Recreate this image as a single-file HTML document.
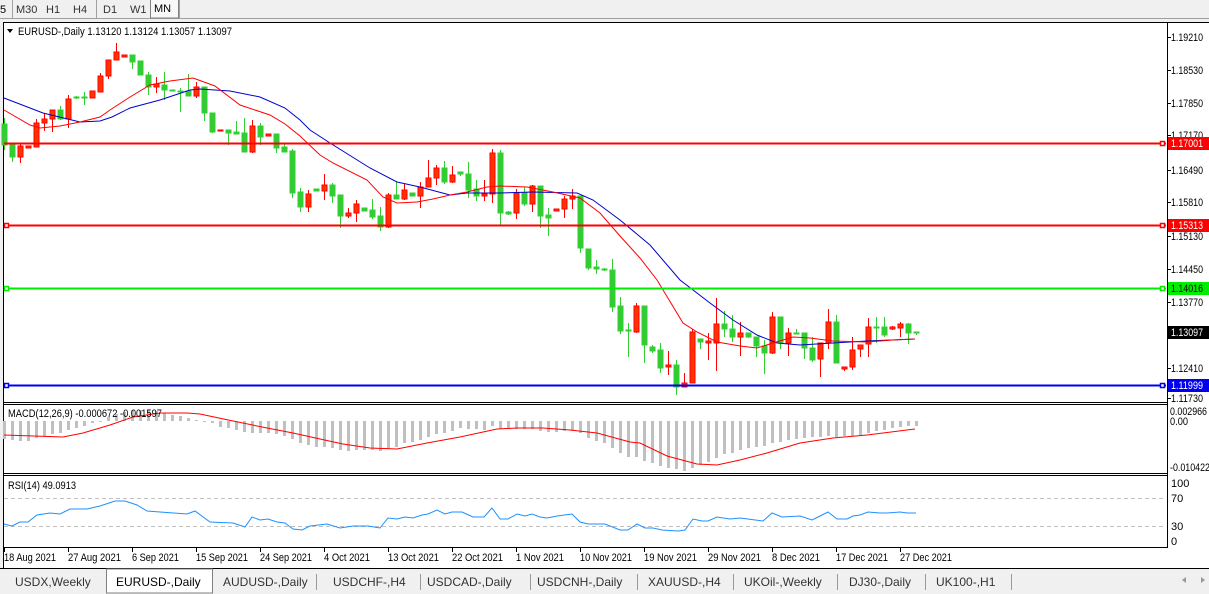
<!DOCTYPE html>
<html><head><meta charset="utf-8"><style>
html,body{margin:0;padding:0;width:1209px;height:594px;overflow:hidden;background:#f0f0f0;font-family:"Liberation Sans",sans-serif}
svg{position:absolute;left:0;top:0}
text{font-family:"Liberation Sans",sans-serif;font-size:11px}
</style></head><body>
<svg id="s" width="1209" height="594" xmlns="http://www.w3.org/2000/svg">
<rect x="0" y="0" width="1209" height="594" fill="#f0f0f0"/>
<rect x="0" y="0" width="1209" height="18" fill="#f0f0f0"/>
<line x1="0" y1="18.5" x2="1209" y2="18.5" stroke="#a0a0a0"/>
<line x1="12.5" y1="0" x2="12.5" y2="18" stroke="#a0a0a0"/>
<line x1="96.5" y1="0" x2="96.5" y2="18" stroke="#a0a0a0"/>
<rect x="150.5" y="-1" width="28" height="19" fill="#f8f8f8" stroke="#808080"/>
<line x1="179.5" y1="0" x2="179.5" y2="18" stroke="#a0a0a0"/>
<g fill="#000"><text x="0" y="13">5</text><text x="16" y="13" fill="#333">M30</text><text x="46" y="13" fill="#333">H1</text><text x="73" y="13" fill="#333">H4</text><text x="103" y="13" fill="#333">D1</text><text x="130" y="13" fill="#333">W1</text><text x="154" y="12">MN</text></g>
<rect x="3" y="22" width="1206" height="546" fill="#fff"/>
<line x1="3.5" y1="22" x2="3.5" y2="568" stroke="#000"/>
<line x1="3" y1="22.5" x2="1209" y2="22.5" stroke="#000"/>
<line x1="1167.5" y1="22" x2="1167.5" y2="548" stroke="#000"/>
<line x1="3" y1="402.5" x2="1167" y2="402.5" stroke="#000"/>
<line x1="3" y1="404.5" x2="1167" y2="404.5" stroke="#000"/>
<line x1="3" y1="473.5" x2="1167" y2="473.5" stroke="#000"/>
<line x1="3" y1="475.5" x2="1167" y2="475.5" stroke="#000"/>
<line x1="3" y1="547.5" x2="1167" y2="547.5" stroke="#000"/>
<line x1="4" y1="498.5" x2="1166" y2="498.5" stroke="#c0c0c0" stroke-dasharray="4,3"/>
<line x1="4" y1="526.5" x2="1166" y2="526.5" stroke="#c0c0c0" stroke-dasharray="4,3"/>
<g id="dyn"></g>
<line x1="4" y1="143.5" x2="1166" y2="143.5" stroke="#ff0000" stroke-width="2"/>
<line x1="4" y1="225.5" x2="1166" y2="225.5" stroke="#ff0000" stroke-width="2"/>
<line x1="4" y1="288.5" x2="1166" y2="288.5" stroke="#00ee00" stroke-width="2"/>
<line x1="4" y1="385.5" x2="1166" y2="385.5" stroke="#0000ee" stroke-width="2"/>
<g fill="#fff" stroke-width="1.5">
<rect x="4.5" y="223.5" width="4" height="4" stroke="#f00"/><rect x="1160.5" y="141.5" width="4" height="4" stroke="#f00"/><rect x="1160.5" y="223.5" width="4" height="4" stroke="#f00"/>
<rect x="4.5" y="286.5" width="4" height="4" stroke="#0e0"/><rect x="1160.5" y="286.5" width="4" height="4" stroke="#0e0"/>
<rect x="4.5" y="383.5" width="4" height="4" stroke="#00e"/><rect x="1160.5" y="383.5" width="4" height="4" stroke="#00e"/>
</g>
<polygon points="7,29 13,29 10,33" fill="#000"/>
<text x="18" y="35" textLength="214" lengthAdjust="spacingAndGlyphs">EURUSD-,Daily  1.13120 1.13124 1.13057 1.13097</text>
<text x="8" y="417" textLength="154" lengthAdjust="spacingAndGlyphs">MACD(12,26,9) -0.000672 -0.001597</text>
<text x="8" y="489" textLength="68" lengthAdjust="spacingAndGlyphs">RSI(14) 49.0913</text>
<g fill="#000" id="ax">
<text x="1171" y="41">1.19210</text><text x="1171" y="74">1.18530</text><text x="1171" y="107">1.17850</text><text x="1171" y="139">1.17170</text>
<text x="1171" y="174">1.16490</text><text x="1171" y="206">1.15810</text><text x="1171" y="240">1.15130</text><text x="1171" y="273">1.14450</text>
<text x="1171" y="306">1.13770</text><text x="1171" y="372">1.12410</text><text x="1171" y="402">1.11730</text>
</g>
<g fill="#000">
<text x="1170" y="415" textLength="37" lengthAdjust="spacingAndGlyphs">0.002966</text><text x="1170" y="425" textLength="18" lengthAdjust="spacingAndGlyphs">0.00</text><text x="1170" y="471" textLength="40" lengthAdjust="spacingAndGlyphs">-0.010422</text>
<text x="1171" y="487">100</text><text x="1171" y="502">70</text><text x="1171" y="530">30</text><text x="1171" y="545">0</text>
</g>
<g stroke="#000"><line x1="1167" y1="37.5" x2="1171" y2="37.5"/><line x1="1167" y1="70.5" x2="1171" y2="70.5"/><line x1="1167" y1="103.5" x2="1171" y2="103.5"/><line x1="1167" y1="135.5" x2="1171" y2="135.5"/><line x1="1167" y1="170.5" x2="1171" y2="170.5"/><line x1="1167" y1="202.5" x2="1171" y2="202.5"/><line x1="1167" y1="236.5" x2="1171" y2="236.5"/><line x1="1167" y1="269.5" x2="1171" y2="269.5"/><line x1="1167" y1="302.5" x2="1171" y2="302.5"/><line x1="1167" y1="368.5" x2="1171" y2="368.5"/><line x1="1167" y1="398.5" x2="1171" y2="398.5"/></g>
<rect x="1168" y="137" width="41" height="13" fill="#ff0000"/><text x="1171" y="147" fill="#fff" textLength="32" lengthAdjust="spacingAndGlyphs">1.17001</text>
<rect x="1168" y="219" width="41" height="13" fill="#ff0000"/><text x="1171" y="229" fill="#fff" textLength="32" lengthAdjust="spacingAndGlyphs">1.15313</text>
<rect x="1168" y="282" width="41" height="13" fill="#00ee00"/><text x="1171" y="292" fill="#000" textLength="32" lengthAdjust="spacingAndGlyphs">1.14016</text>
<rect x="1168" y="326" width="41" height="13" fill="#000"/><text x="1171" y="336" fill="#fff" textLength="32" lengthAdjust="spacingAndGlyphs">1.13097</text>
<rect x="1168" y="379" width="41" height="13" fill="#0000ee"/><text x="1171" y="389" fill="#fff" textLength="32" lengthAdjust="spacingAndGlyphs">1.11999</text>
<g fill="#000">
<text x="4" y="561" textLength="52" lengthAdjust="spacingAndGlyphs">18 Aug 2021</text><text x="68" y="561" textLength="53" lengthAdjust="spacingAndGlyphs">27 Aug 2021</text><text x="132" y="561" textLength="47" lengthAdjust="spacingAndGlyphs">6 Sep 2021</text><text x="196" y="561" textLength="52" lengthAdjust="spacingAndGlyphs">15 Sep 2021</text>
<text x="260" y="561" textLength="52" lengthAdjust="spacingAndGlyphs">24 Sep 2021</text><text x="324" y="561" textLength="46" lengthAdjust="spacingAndGlyphs">4 Oct 2021</text><text x="388" y="561" textLength="51" lengthAdjust="spacingAndGlyphs">13 Oct 2021</text><text x="452" y="561" textLength="51" lengthAdjust="spacingAndGlyphs">22 Oct 2021</text>
<text x="516" y="561" textLength="48" lengthAdjust="spacingAndGlyphs">1 Nov 2021</text><text x="580" y="561" textLength="52" lengthAdjust="spacingAndGlyphs">10 Nov 2021</text><text x="644" y="561" textLength="53" lengthAdjust="spacingAndGlyphs">19 Nov 2021</text><text x="708" y="561" textLength="53" lengthAdjust="spacingAndGlyphs">29 Nov 2021</text>
<text x="772" y="561" textLength="48" lengthAdjust="spacingAndGlyphs">8 Dec 2021</text><text x="836" y="561" textLength="52" lengthAdjust="spacingAndGlyphs">17 Dec 2021</text><text x="900" y="561" textLength="52" lengthAdjust="spacingAndGlyphs">27 Dec 2021</text>
</g>
<g id="ticks" stroke="#000"></g>
<rect x="0" y="568" width="1209" height="26" fill="#f0f0f0"/>
<line x1="0" y1="568.5" x2="1209" y2="568.5" stroke="#000"/>
<rect x="106.5" y="569" width="106" height="24" fill="#fff" stroke="#808080"/>
<g fill="#333">
<text x="15" y="586" style="font-size:12px">USDX,Weekly</text><text x="116" y="586" style="font-size:12px" fill="#000">EURUSD-,Daily</text><text x="223" y="586" style="font-size:12px">AUDUSD-,Daily</text>
<text x="333" y="586" style="font-size:12px">USDCHF-,H4</text><text x="427" y="586" style="font-size:12px">USDCAD-,Daily</text><text x="537" y="586" style="font-size:12px">USDCNH-,Daily</text>
<text x="648" y="586" style="font-size:12px">XAUUSD-,H4</text><text x="744" y="586" style="font-size:12px">UKOil-,Weekly</text><text x="849" y="586" style="font-size:12px">DJ30-,Daily</text><text x="936" y="586" style="font-size:12px">UK100-,H1</text>
</g>
<g stroke="#999"><line x1="316.5" y1="574" x2="316.5" y2="590"/><line x1="420.5" y1="574" x2="420.5" y2="590"/><line x1="530.5" y1="574" x2="530.5" y2="590"/><line x1="637.5" y1="574" x2="637.5" y2="590"/><line x1="733.5" y1="574" x2="733.5" y2="590"/><line x1="837.5" y1="574" x2="837.5" y2="590"/><line x1="925.5" y1="574" x2="925.5" y2="590"/><line x1="1011.5" y1="574" x2="1011.5" y2="590"/></g>
<polygon points="1186,577 1182,580 1186,583" fill="#999"/><polygon points="1201,577 1205,580 1201,583" fill="#999"/>
</svg>
<script>
var ax=document.querySelectorAll('#ax text');for(var q=0;q<ax.length;q++){ax[q].setAttribute('textLength','32');ax[q].setAttribute('lengthAdjust','spacingAndGlyphs');}
var C=[[124,145,118,150,'g'],[143,157,143,162,'g'],[146,157,143,163,'r'],[146,148,146,148,'r'],[123,147,119,147,'r'],[119,123,113,131,'r'],[110,119,110,132,'r'],[110,119,106,120,'g'],[99,119,95,128,'r'],[97,98,96,99,'g'],[97,98,92,105,'g'],[91,98,91,98,'r'],[76,92,73,92,'r'],[60,76,60,79,'r'],[52,60,43,60,'r'],[55,57,55,57,'r'],[55,62,55,69,'g'],[61,75,61,75,'g'],[75,87,72,95,'g'],[84,87,77,93,'r'],[85,90,72,100,'g'],[90,91,90,91,'g'],[91,92,88,112,'g'],[91,96,74,96,'g'],[87,96,82,98,'r'],[87,113,87,121,'g'],[113,132,113,133,'g'],[130,131,130,131,'r'],[130,133,130,145,'g'],[132,134,121,134,'g'],[133,152,118,152,'g'],[126,152,120,153,'r'],[126,137,123,145,'g'],[134,136,134,136,'r'],[134,148,134,153,'g'],[147,152,144,152,'g'],[151,193,149,198,'g'],[192,207,188,212,'g'],[194,207,190,212,'r'],[189,191,189,191,'g'],[185,191,174,200,'r'],[185,196,183,203,'g'],[195,216,195,228,'g'],[213,216,208,218,'r'],[204,213,200,222,'r'],[208,211,208,211,'g'],[210,217,199,219,'g'],[216,227,207,231,'g'],[195,227,193,228,'r'],[195,199,182,199,'g'],[190,199,184,200,'r'],[193,196,193,196,'g'],[187,196,182,208,'r'],[178,187,160,187,'r'],[168,178,165,185,'r'],[168,182,161,184,'g'],[175,182,166,183,'r'],[172,174,172,176,'g'],[174,190,162,198,'g'],[189,196,180,201,'g'],[194,196,180,201,'r'],[153,194,149,203,'r'],[153,213,150,226,'g'],[212,214,211,215,'g'],[193,213,189,219,'r'],[193,204,187,206,'g'],[186,204,185,212,'r'],[186,216,186,228,'g'],[215,218,208,236,'g'],[209,211,209,211,'r'],[199,209,196,218,'r'],[196,199,189,209,'r'],[196,248,196,253,'g'],[249,268,249,270,'g'],[267,269,260,274,'g'],[269,270,268,271,'g'],[270,307,259,312,'g'],[306,331,297,334,'g'],[330,331,323,357,'g'],[306,332,303,333,'r'],[306,345,306,363,'g'],[347,351,345,353,'g'],[350,368,343,373,'g'],[365,367,351,375,'r'],[365,387,360,395,'g'],[383,387,373,387,'r'],[332,383,329,383,'r'],[339,342,339,349,'g'],[341,343,333,360,'r'],[324,343,298,371,'r'],[324,329,311,337,'g'],[329,337,315,342,'g'],[333,337,322,356,'r'],[333,337,333,338,'g'],[337,346,337,357,'g'],[346,353,340,374,'g'],[317,353,312,354,'r'],[317,343,317,349,'g'],[333,343,328,356,'r'],[333,334,329,334,'g'],[333,348,333,359,'g'],[348,360,337,362,'g'],[343,359,343,377,'r'],[322,343,309,349,'r'],[322,363,315,363,'g'],[367,369,367,371,'r'],[350,367,337,370,'r'],[345,349,345,357,'r'],[327,344,318,357,'r'],[327,328,317,343,'g'],[327,335,317,337,'g'],[327,329,326,330,'r'],[324,328,322,337,'r'],[324,333,323,344,'g'],[332,333,332,335,'g']];
var H=[439,440,441,441,438,436,434,433,430,428,426,423,422,417,414,412,410,410,410,411,413,415,416,418,420,421,423,427,428,430,432,433,433,433,434,436,439,443,445,447,447,448,450,451,450,450,450,451,449,447,443,442,440,437,434,433,431,428,429,429,430,426,429,429,429,429,429,431,432,432,431,431,433,438,441,443,448,453,457,457,461,463,466,468,469,471,468,465,462,458,454,453,450,448,447,446,443,442,440,439,438,437,437,436,437,436,436,436,433,431,430,428,427,426,426];
var red=[[4,110],[30,125],[40,128],[60,126],[80,122],[100,117],[110,110],[130,97],[150,85],[170,81],[193,78],[215,86],[240,105],[270,115],[285,124],[300,136],[320,155],[333,163],[367,180],[383,197],[397,203],[417,202],[433,199],[450,195],[467,192],[487,187],[500,186],[527,187],[553,192],[580,198],[600,213],[620,236],[640,258],[657,280],[683,323],[697,332],[717,342],[740,346],[757,348],[773,343],[793,337],[810,338],[833,341],[867,342],[893,340],[915,339]];
var blue=[[4,98],[43,113],[80,122],[100,121],[112,117],[130,108],[160,100],[190,90],[200,89],[230,91],[260,97],[285,108],[300,120],[310,130],[330,143],[370,168],[397,182],[420,187],[450,195],[467,193],[500,193],[533,192],[577,193],[593,200],[620,220],[650,245],[680,280],[710,303],[733,320],[757,335],[777,343],[800,345],[833,343],[867,341],[915,339]];
var sig=[[4,435],[63,437],[83,433],[110,425],[133,417],[160,413],[187,413],[200,414],[233,421],[267,428],[293,433],[320,439],[343,444],[370,448],[397,449],[427,443],[460,437],[497,429],[517,428],[543,428],[570,430],[597,433],[630,442],[640,443],[667,456],[697,464],[717,465],[740,460],[767,453],[800,443],[833,438],[867,435],[915,429]];
var rsi=[[4,524],[12,526],[20,522],[28,522],[37,515],[50,513],[60,514],[70,509],[87,509],[100,506],[115,501],[125,501],[137,505],[147,511],[160,512],[187,514],[195,511],[210,522],[233,523],[245,527],[252,517],[260,520],[268,519],[277,522],[285,523],[293,529],[302,530],[310,526],[327,524],[340,528],[353,526],[368,526],[380,528],[388,518],[397,519],[405,517],[413,518],[422,515],[428,514],[437,510],[445,514],[452,512],[462,512],[473,517],[484,517],[492,508],[500,519],[508,519],[517,514],[525,516],[532,514],[540,517],[547,518],[557,516],[572,514],[580,522],[588,524],[605,524],[620,530],[628,530],[637,524],[645,528],[653,528],[662,530],[678,531],[685,530],[693,519],[702,521],[708,521],[717,517],[730,519],[740,518],[763,521],[772,513],[782,517],[800,516],[812,520],[820,516],[828,512],[837,519],[847,519],[853,516],[860,515],[868,512],[880,513],[887,513],[900,512],[907,513],[916,513]];
var o='';
for(var i=0;i<H.length;i++){var x=4.5+8*i,b=H[i];var t=Math.min(421,b),h=Math.abs(b-421)||1;o+='<rect x="'+(x-1.5)+'" y="'+t+'" width="3" height="'+h+'" fill="#c0c0c0"/>';}
function pl(a,c){return '<polyline fill="none" stroke="'+c+'" stroke-width="1" points="'+a.map(function(p){return p.join(',')}).join(' ')+'"/>';}
o+=pl(sig,'#ff0000');o+=pl(rsi,'#1e90ff');
for(var i=0;i<C.length;i++){var c=C[i],x=4.5+8*i;var col=c[4]=='r'?'#ff0000':'#32cd32';var f=c[4]=='r'?'#ff3300':'#32cd32';
o+='<line x1="'+x+'" y1="'+c[2]+'" x2="'+x+'" y2="'+c[3]+'" stroke="'+col+'"/>';
var h=Math.max(c[1]-c[0],1);o+='<rect x="'+(x-2.5)+'" y="'+c[0]+'" width="5" height="'+h+'" fill="'+f+'" stroke="'+col+'" stroke-width="1"/>';}
o+=pl(blue,'#0000cc');o+=pl(red,'#ff0000');
document.getElementById('dyn').innerHTML=o;
var t='';for(var k=0;k<15;k++){var x=4.5+64*k;t+='<line x1="'+x+'" y1="548" x2="'+x+'" y2="552"/>';}
document.getElementById('ticks').innerHTML=t;
</script>
</body></html>
